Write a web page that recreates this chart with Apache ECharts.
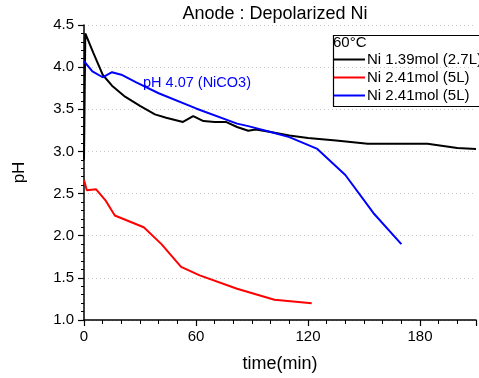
<!DOCTYPE html>
<html><head><meta charset="utf-8">
<script src="https://cdn.jsdelivr.net/npm/echarts@6/dist/echarts.min.js"></script>
<style>html,body{margin:0;padding:0;background:#fff}#c{width:479px;height:378px}</style>
</head><body><div id="c"></div>
<script>
const seriesNames = ['Ni 1.39mol (2.7L)', 'Ni 2.41mol (5L)', 'Ni 2.41mol (5L) '];
const blackTime = [0, 0.7, 5, 10, 15, 22, 30, 38, 44, 53, 58.5, 64, 70, 76, 82, 88, 92, 100, 110, 120, 135, 152, 184, 200, 210];
const blackPH   = [2.9, 4.4, 4.17, 3.91, 3.78, 3.65, 3.54, 3.44, 3.40, 3.35, 3.42, 3.36, 3.35, 3.35, 3.29, 3.245, 3.26, 3.23, 3.19, 3.16, 3.13, 3.09, 3.09, 3.04, 3.03];
const redTime = [0, 1.5, 6.5, 11.5, 16.5, 32, 41.5, 52, 62, 82, 102, 122];
const redPH   = [2.66, 2.54, 2.55, 2.42, 2.24, 2.10, 1.90, 1.63, 1.53, 1.37, 1.24, 1.20];
const blueTime = [0, 4.5, 10, 15, 20, 28, 40, 60, 82, 88, 100, 110, 125, 140, 155, 170];
const bluePH   = [4.07, 3.95, 3.88, 3.94, 3.91, 3.82, 3.69, 3.51, 3.33, 3.30, 3.23, 3.17, 3.03, 2.72, 2.27, 1.90];
const xTicks = [0, 60, 120, 180];
const yTicks = [1.0, 1.5, 2.0, 2.5, 3.0, 3.5, 4.0, 4.5];
const titleText = 'Anode : Depolarized Ni';
const legendTitle = '60\u00b0C';
const annotation = 'pH 4.07 (NiCO3)';

const zip = (a, b) => a.map((v, i) => [v, b[i]]);
const font = 'Liberation Sans, Arial, sans-serif';
const chart = echarts.init(document.getElementById('c'), null, {renderer: 'canvas'});
const mk = (name, t, p, color) => ({
  name, type: 'line', data: zip(t, p), symbol: 'none', showSymbol: false,
  lineStyle: {color, width: 2}, itemStyle: {color}, animation: false
});
chart.setOption({
  animation: false,
  textStyle: {fontFamily: font},
  title: {text: titleText, left: 275, top: 5, padding: 0, textAlign: 'center',
    textStyle: {fontFamily: font, fontSize: 18, fontWeight: 'normal', color: '#000'}},
  grid: {left: 84, top: 25, right: -3, bottom: 58, containLabel: false},
  xAxis: {
    type: 'value', min: xTicks[0], max: 210, interval: 60,
    name: 'time(min)', nameLocation: 'middle', nameGap: 35,
    nameTextStyle: {fontFamily: font, fontSize: 18, color: '#000'},
    axisLine: {show: true, onZero: false, lineStyle: {color: '#000', width: 1.5}},
    axisTick: {show: true, inside: false, length: 6, lineStyle: {color: '#000', width: 1.2}},
    minorTick: {show: true, splitNumber: 6, length: 4, lineStyle: {color: '#000', width: 1}},
    axisLabel: {fontFamily: font, fontSize: 15, color: '#000', margin: 9,
      formatter: v => xTicks.includes(v) ? String(v) : ''},
    splitLine: {show: false}
  },
  yAxis: {
    type: 'value', min: yTicks[0], max: yTicks[yTicks.length - 1], interval: 0.5,
    name: 'pH', nameLocation: 'middle', nameGap: 56, nameRotate: 90,
    nameTextStyle: {fontFamily: font, fontSize: 17, color: '#000'},
    axisLine: {show: true, onZero: false, lineStyle: {color: '#000', width: 1.5}},
    axisTick: {show: true, inside: false, length: 6, lineStyle: {color: '#000', width: 1.2}},
    minorTick: {show: true, splitNumber: 5, length: 3, lineStyle: {color: '#000', width: 1}},
    axisLabel: {fontFamily: font, fontSize: 15, color: '#000', margin: 10,
      formatter: v => v.toFixed(1)},
    splitLine: {show: true, lineStyle: {color: '#c8c8c8', type: [1, 3], width: 1}}
  },
  legend: {
    orient: 'vertical', left: 333, top: 52, padding: 0, itemWidth: 32, itemHeight: 14, itemGap: 3,
    data: seriesNames, icon: 'path://M0,6 L32,6 L32,8 L0,8 Z',
    textStyle: {fontFamily: font, fontSize: 15, color: '#000', padding: [0, 0, 0, -3]},
    selectedMode: false
  },
  graphic: [
    {type: 'rect', left: 331, top: 33, shape: {width: 160, height: 71},
      style: {fill: 'none', stroke: '#000', lineWidth: 1.2}, z: 100},
    {type: 'text', left: 333, top: 35, style: {text: legendTitle, font: '15px ' + font, fill: '#000'}, z: 100},
    {type: 'text', left: 143, top: 75, style: {text: annotation, font: '14.5px ' + font, fill: '#0000ff'}, z: 100}
  ],
  series: [
    mk(seriesNames[0], blackTime, blackPH, '#000000'),
    mk(seriesNames[1], redTime, redPH, '#ff0000'),
    mk(seriesNames[2], blueTime, bluePH, '#0000ff')
  ]
});
</script></body></html>
